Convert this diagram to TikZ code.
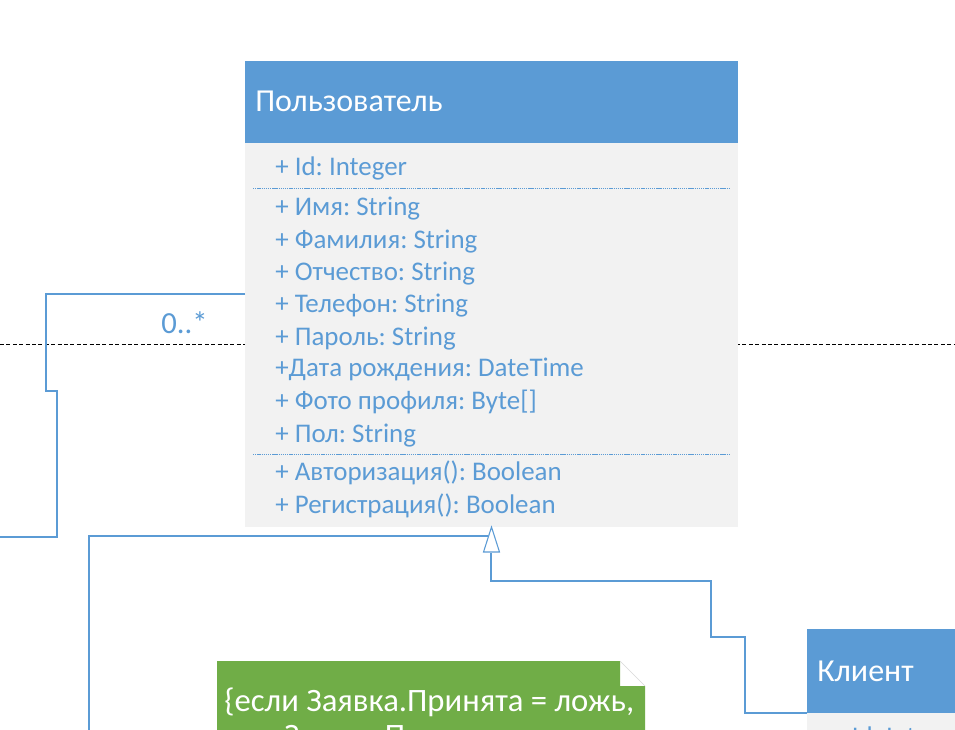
\documentclass[tikz,border=0pt]{standalone}
\usepackage{fontspec}
\setmainfont{Carlito}
\definecolor{hdr}{HTML}{5B9BD5}
\definecolor{bodyg}{HTML}{F2F2F2}
\definecolor{notegreen}{HTML}{70AD47}
\definecolor{txtblue}{HTML}{5B9BD5}
\definecolor{lineblue}{HTML}{5B9BD5}
\begin{document}
\frenchspacing
\begin{tikzpicture}[x=0.75pt,y=-0.75pt,
  hdrbox/.style={fill=hdr, draw=none, inner sep=0pt, outer sep=0pt, anchor=north west},
  bodybox/.style={fill=bodyg, draw=none, inner sep=0pt, outer sep=0pt, anchor=north west},
  titletext/.style={text=white, inner sep=0pt, anchor=base west, font=\fontsize{24pt}{28pt}\selectfont},
  attr/.style={text=txtblue, inner sep=0pt, anchor=base west, font=\fontsize{20.2pt}{24pt}\selectfont},
  multtext/.style={text=txtblue, inner sep=0pt, anchor=base west, font=\fontsize{23pt}{27pt}\selectfont},
  notetext/.style={text=white, inner sep=0pt, anchor=base west, font=\fontsize{24.5pt}{29pt}\selectfont},
  sepline/.style={draw=lineblue, line width=0.5pt, dash pattern=on 1pt off 0.6pt},
  conn/.style={draw=lineblue, line width=0.8pt},
  gentip/.style={draw=lineblue, line width=0.8pt, fill=white, line join=miter}
]
\useasboundingbox (0,0) rectangle (955,730);
\clip (0,0) rectangle (955,730);
\fill[white] (0,0) rectangle (955,730);

% dashed guide line
\coordinate (dl) at (0,344);
\coordinate (dr) at (955,344);
\draw[black, line width=0.6pt, dash pattern=on 3pt off 1.8pt] (dl) -- (dr);

% class Пользователь
\node[hdrbox, minimum width=369.75pt, minimum height=61.5pt] (uhead) at (245,61) {};
\node[bodybox, minimum width=369.75pt, minimum height=288pt] (ubody) at (245,143) {};
\node[titletext] (utitle) at (255,112) {Пользователь};
\node[attr] (a0) at (275,176) {+ Id: Integer};
\draw[sepline] (253,188) -- (730,188);
\node[attr] (a1) at (275,216) {+ Имя: String};
\node[attr] (a2) at (275,249) {+ Фамилия: String};
\node[attr] (a3) at (275,281) {+ Отчество: String};
\node[attr] (a4) at (275,313) {+ Телефон: String};
\node[attr] (a5) at (275,345) {+ Пароль: String};
\node[attr] (a6) at (275,377) {+Дата рождения: DateTime};
\node[attr] (a7) at (275,409) {+ Фото профиля: Byte[]};
\node[attr] (a8) at (275,442) {+ Пол: String};
\draw[sepline] (253,454) -- (730,454);
\node[attr] (m1) at (275,480) {+ Авторизация(): Boolean};
\node[attr] (m2) at (275,513) {+ Регистрация(): Boolean};

% class Клиент
\node[hdrbox, minimum width=150pt, minimum height=63pt] (chead) at (807,629) {};
\node[bodybox, minimum width=150pt, minimum height=60pt] (cbody) at (807,713) {};
\node[titletext] (ctitle) at (817,681) {Клиент};
\node[attr] (c0) at (832,745) {+ Id: Integer};

% association to the left
\coordinate (assocEnd) at (0,537);
\draw[conn] (ubody.west |- 0,294) -| (46,391) -| (57,537) -- (assocEnd);
\node[multtext] (mult) at (161,334) {0..*};

% generalizations
\coordinate (genTip) at (ubody.south);
\coordinate (genEnd2) at (89,740);
\draw[conn] (chead.south west) -| (745,637) -| (711,581) -| (491,553);
\draw[conn] (genEnd2) |- (488,536);
\draw[gentip] (genTip) -- ++(-8,25) -- ++(16,0) -- cycle;

% note
\fill[notegreen] (217,661) -- (620,661) -- (620,686) -- (645,686) -- (645,760) -- (217,760) -- cycle;
\draw[black!15, line width=0.5pt] (620,661) -- (645,686);
\node[notetext] (n1) at (224,711) {\{если Заявка.Принята = ложь,};
\node[notetext] (n2) at (247,746) {то Заявка.Причина};
\end{tikzpicture}
\end{document}
